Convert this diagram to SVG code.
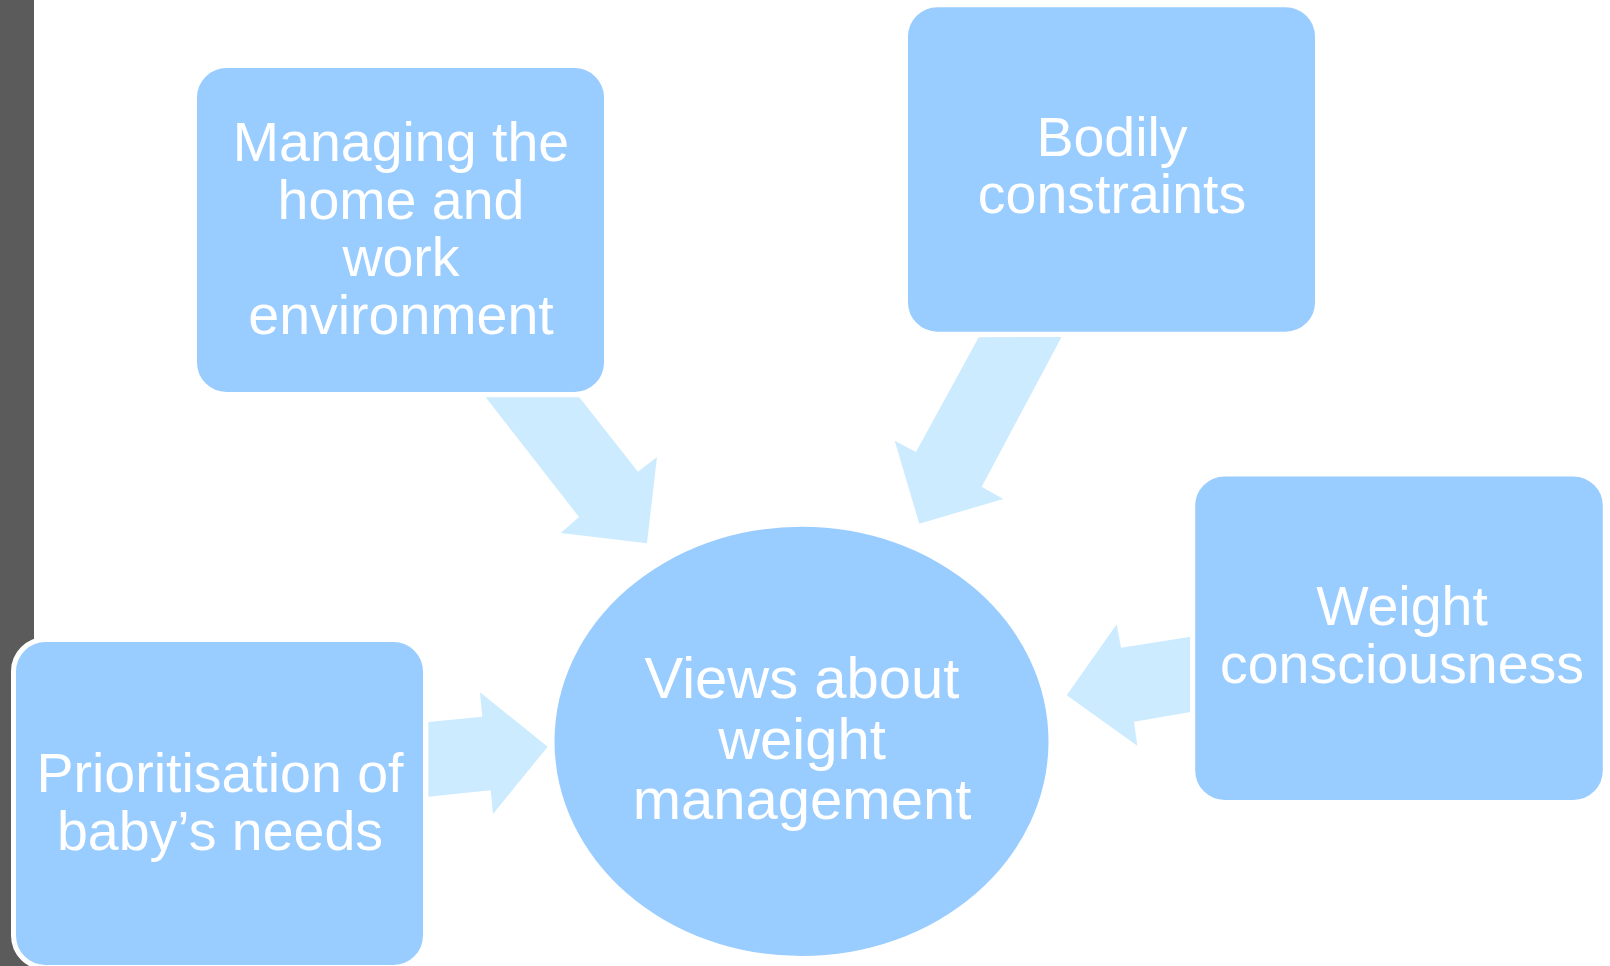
<svg xmlns="http://www.w3.org/2000/svg" width="1610" height="966" viewBox="0 0 1610 966">
  <style>
    .box { fill: #99ccff; stroke: #ffffff; stroke-width: 5; }
    .hub { fill: #99ccff; }
    .arrow { fill: #cdebff; }
    .label { font-family: "Liberation Sans", Arial, sans-serif; font-size: 55.5px; fill: #ffffff; text-anchor: middle; }
    .hub-label { font-size: 58px; }
  </style>
  <rect x="0" y="0" width="1610" height="966" fill="#ffffff"/>
  <!-- dark side bar -->
  <rect x="0" y="0" width="34" height="966" fill="#5b5b5b"/>

  <g id="connectors">
    <polygon class="arrow" points="485.7,397.3 579.3,397.3 638,471.7 657,457 647,543.3 560.7,533 579,517"/>
    <polygon class="arrow" points="978.7,337.3 1061.7,336.8 981.7,486.7 1003.3,499 919.3,523.7 894.7,440.7 916,452"/>
    <polygon class="arrow" points="1190.7,636.7 1121,647.7 1116.7,624.3 1066.7,695.3 1137.3,745.7 1134,721.7 1190.7,712"/>
    <polygon class="arrow" points="428.3,722 482.3,716.7 480,692.3 547.7,746.7 493,814 490.7,790.3 428.3,796.7"/>
  </g>

  <g id="node-home-work">
    <rect class="box" x="194.5" y="65.5" width="412" height="329" rx="32"/>
    <text class="label" x="401" y="161">Managing the</text>
    <text class="label" x="401" y="218.5">home and</text>
    <text class="label" x="401" y="276">work</text>
    <text class="label" x="401" y="334">environment</text>
  </g>

  <g id="node-bodily">
    <rect class="box" x="905.5" y="4.7" width="412" height="329.5" rx="32"/>
    <text class="label" x="1112" y="156">Bodily</text>
    <text class="label" x="1112" y="213">constraints</text>
  </g>

  <g id="node-weight-consciousness">
    <rect class="box" x="1192.7" y="473.9" width="412.6" height="328.5" rx="32"/>
    <text class="label" x="1402" y="625">Weight</text>
    <text class="label" x="1402" y="682.5">consciousness</text>
  </g>

  <g id="node-baby-needs">
    <rect class="box" x="13.5" y="639.5" width="412" height="328" rx="32"/>
    <text class="label" x="220" y="792.3">Prioritisation of</text>
    <text class="label" x="220" y="850">baby’s needs</text>
  </g>

  <g id="node-views">
    <ellipse class="hub" cx="801.5" cy="741.4" rx="247" ry="214.7"/>
    <text class="label hub-label" x="802" y="698.3">Views about</text>
    <text class="label hub-label" x="802" y="759.3">weight</text>
    <text class="label hub-label" x="802" y="819.3">management</text>
  </g>
</svg>
